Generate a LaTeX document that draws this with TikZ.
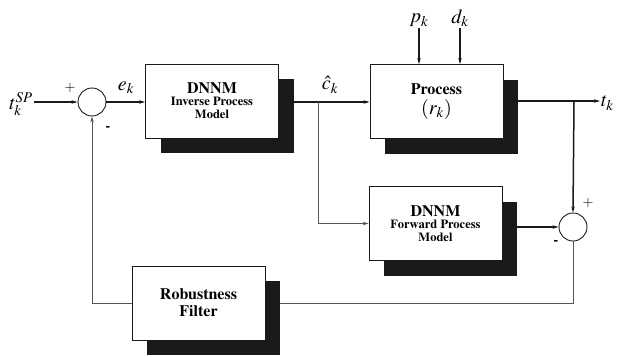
\documentclass[tikz,border=0pt]{standalone}
\usepackage[T1]{fontenc}
\usepackage{mathptmx}
\usepackage{tikz}
\usetikzlibrary{arrows.meta,shadows,backgrounds}
\definecolor{cink}{HTML}{1A1A1A}
\definecolor{cthin}{HTML}{555555}
\newcommand{\subfont}{\fontsize{12.5}{13}\selectfont\bfseries}

\begin{document}
\begin{tikzpicture}[x=1pt, y=-1pt,
    >={Stealth[length=6pt,width=3.5pt]},
    sig/.style={->, line width=1.5pt, draw=cink},
    fb/.style={line width=0.8pt, draw=cthin},
    blk/.style={draw=cink, line width=0.8pt, fill=white, align=center,
                minimum width=133pt, minimum height=74pt, inner sep=0pt,
                font=\fontsize{16}{17}\selectfont\bfseries,
                drop shadow={shadow xshift=15pt, shadow yshift=-15pt,
                             fill=cink, opacity=1}},
    sum/.style={draw=cink, line width=0.9pt, circle, fill=white,
                minimum size=28pt, inner sep=0pt},
    lbl/.style={font=\fontsize{20}{22}\selectfont, inner sep=1pt},
    sgn/.style={font=\fontsize{14}{14}\selectfont, inner sep=0pt},
  ]
  \path[use as bounding box] (0,0) rectangle (628,356);
  % == blocks
  \node[blk] (inv) at (212,101)
    {DNNM\\[-5pt] {\subfont Inverse Process}\\[-4pt] {\subfont Model}};
  \node[blk] (proc) at (436.5,101.5)
    {Process\\[3pt] {\mdseries\fontsize{20}{22}\selectfont $(r_k)$}};
  \node[blk] (fwd) at (435.5,223.5)
    {DNNM\\[-5pt] {\subfont Forward Process}\\[-4pt] {\subfont Model}};
  \node[blk] (filt) at (198.5,303)
    {Robustness\\ Filter};
  % == summing junctions and signs
  \node[sum] (sum1) at (92,102) {};
  \node[sum] (sum2) at (573,227) {};
  \node[sgn] at (70,88) {$+$};
  \node[sgn] at (108,129) {\textbf{-}};
  \node[sgn] at (588,203) {$+$};
  \node[sgn] at (556,243) {\textbf{-}};
  % == signal labels
  \node[lbl] (tsp) at (21,104) {$t_k^{SP}$};
  \node[lbl] (ek) at (126,88) {$e_k$};
  \node[lbl] (ck) at (330,85) {$\hat c_k$};
  \node[lbl, anchor=south] (pk) at (419,28) {$p_k$};
  \node[lbl, anchor=south] (dk) at (460,28) {$d_k$};
  \node[lbl, anchor=west] (tk) at (600,103) {$t_k$};
  \coordinate (br) at (318,102);
  \coordinate (tap) at (574,101);
  % == connectors, kept under the shadows
  \begin{scope}[on background layer]
    \draw[sig] (tsp.east |- sum1) -- (sum1.west);
    \draw[sig] (sum1.east) -- (inv.west |- sum1);
    \draw[sig] (inv.east |- br) -- (proc.west |- br);
    \draw[sig] (pk.south) -- (pk |- proc.north);
    \draw[sig] (dk.south) -- (dk |- proc.north);
    \draw[sig] (proc.east |- tap) -- (tk.west |- tap);
    \draw[sig] (tap) -- (sum2.north);
    \draw[sig] (fwd.east |- sum2) -- (sum2.west);
    \draw[fb, ->] (br) |- (fwd.west);
    \draw[fb] (sum2.south) |- (filt.east);
    \draw[fb, ->] (filt.west) -| (sum1.south);
  \end{scope}
\end{tikzpicture}
\end{document}
